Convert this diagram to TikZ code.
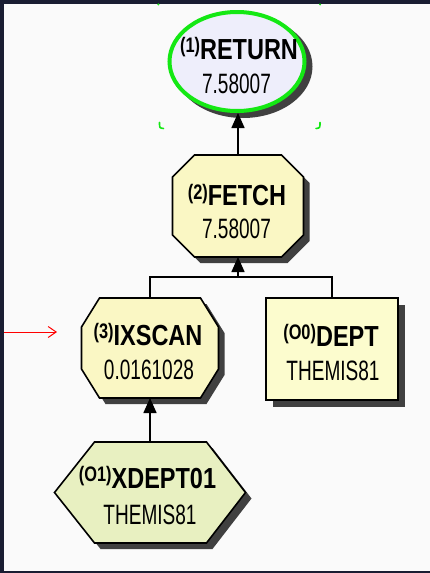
\documentclass[tikz,border=0pt]{standalone}
\usepackage{fontspec}
\setmainfont{Liberation Sans}
\newfontfamily\ttl[FakeStretch=0.81]{Liberation Sans}
\newfontfamily\pfx[FakeStretch=0.78]{Liberation Sans}
\newfontfamily\vlf[FakeStretch=0.68]{Liberation Sans}
\usetikzlibrary{arrows.meta}
\definecolor{framec}{RGB}{25,29,50}
\definecolor{bgc}{RGB}{250,250,250}
\definecolor{lav}{RGB}{238,238,251}
\definecolor{selg}{RGB}{20,232,20}
\definecolor{ylw}{RGB}{250,247,196}
\definecolor{ylwb}{RGB}{252,252,206}
\definecolor{grn}{RGB}{232,240,193}
\definecolor{shd}{RGB}{64,64,64}
\newcommand\ttlline[2]{{\raisebox{6.5pt}{\pfx\bfseries\fontsize{21}{21}\selectfont(#1)}\ttl\bfseries\fontsize{29}{29}\selectfont#2}}
\newcommand\valline[1]{{\vlf\fontsize{28}{28}\selectfont #1}}
\begin{document}
\begin{tikzpicture}[x=1pt,y=-1pt,
  anch/.style={rectangle,draw=none,inner sep=0pt,outer sep=0pt},
  shp/.style={draw=black,line width=1.6pt,line join=miter},
  shade/.style={fill=shd},
  conn/.style={draw=black,line width=1.5pt},
  arr/.style={conn,-{Triangle[length=15pt,width=13pt]}},
  ttxt/.style={anchor=base,inner sep=0pt,outer sep=0pt},
]
\fill[framec] (0,0) rectangle (430,573);
\fill[bgc] (4,3.5) rectangle (430,571);
\useasboundingbox (0,0) rectangle (430,573);

% anchor nodes (bounding boxes of the shapes)
\node[anch, minimum width=139pt, minimum height=103pt] (ret) at (237,61.5) {};
\node[anch, minimum width=131pt, minimum height=102pt] (fetch) at (238,206) {};
\node[anch, minimum width=137pt, minimum height=100pt] (ixscan) at (150,348) {};
\node[anch, minimum width=132pt, minimum height=102pt] (dept) at (332,349) {};
\node[anch, minimum width=191pt, minimum height=101pt] (xdept) at (150,492.5) {};

% RETURN ellipse
\fill[shade] ([shift={(6,5)}]ret.center) ellipse [x radius=69.5, y radius=51.5];
\draw[selg, line width=4pt, fill=lav] (ret.center) ellipse [x radius=67.5, y radius=49.5];

% FETCH octagon
\begin{scope}[shift={(fetch.center)}]
  \fill[shade, shift={(6,6)}] (-43.5,-51) -- (43.5,-51) -- (65.5,-29) -- (65.5,29) -- (43.5,51) -- (-43.5,51) -- (-65.5,29) -- (-65.5,-29) -- cycle;
  \path[shp, fill=ylw] (-43.5,-51) -- (43.5,-51) -- (65.5,-29) -- (65.5,29) -- (43.5,51) -- (-43.5,51) -- (-65.5,29) -- (-65.5,-29) -- cycle;
\end{scope}

% IXSCAN octagon
\begin{scope}[shift={(ixscan.center)}]
  \fill[shade, shift={(6,6)}] (-50.5,-50) -- (50.5,-50) -- (68.5,-21) -- (68.5,21) -- (50.5,50) -- (-50.5,50) -- (-68.5,21) -- (-68.5,-21) -- cycle;
  \path[shp, fill=ylw] (-50.5,-50) -- (50.5,-50) -- (68.5,-21) -- (68.5,21) -- (50.5,50) -- (-50.5,50) -- (-68.5,21) -- (-68.5,-21) -- cycle;
\end{scope}

% DEPT rectangle
\fill[shade] ([shift={(7,7)}]dept.north west) rectangle ([shift={(7,7)}]dept.south east);
\path[shp, line width=2pt, fill=ylwb] (dept.north west) rectangle (dept.south east);

% XDEPT01 hexagon
\begin{scope}[shift={(xdept.center)}]
  \fill[shade, shift={(6,6)}] (-95.5,0) -- (-55.5,-50.5) -- (56.5,-50.5) -- (95.5,0) -- (56.5,50.5) -- (-55.5,50.5) -- cycle;
  \path[shp, fill=grn] (-95.5,0) -- (-55.5,-50.5) -- (56.5,-50.5) -- (95.5,0) -- (56.5,50.5) -- (-55.5,50.5) -- cycle;
\end{scope}

% texts
\node[ttxt] (ret-t) at (239,59.3) {\ttlline{1}{RETURN}};
\node[ttxt] (ret-v) at (236.5,93) {\valline{7.58007}};
\node[ttxt] (fetch-t) at (237,205.5) {\ttlline{2}{FETCH}};
\node[ttxt] (fetch-v) at (236.5,238) {\valline{7.58007}};
\node[ttxt] (ixscan-t) at (148,345) {\ttlline{3}{IXSCAN}};
\node[ttxt] (ixscan-v) at (149,379) {\valline{0.0161028}};
\node[ttxt] (dept-t) at (331,346) {\ttlline{O0}{DEPT}};
\node[ttxt] (dept-v) at (333,380) {\valline{THEMIS81}};
\node[ttxt] (xdept-t) at (147.5,488) {\ttlline{O1}{XDEPT01}};
\node[ttxt] (xdept-v) at (150,524) {\valline{THEMIS81}};

% connectors
\coordinate (jn) at (238,277);
\draw[conn] (ixscan.north) |- (jn) -| (dept.north);
\draw[arr] (jn) -- (fetch.south);
\draw[arr] (fetch.north) -- (fetch.north |- ret.south);
\draw[arr] (xdept.north) -- (ixscan.south);

% red pointer
\coordinate (rs) at (4,332);
\coordinate (re) at (57,332);
\draw[red, line width=1pt, -{Straight Barb[length=8pt,width=11pt]}] (rs) -- (re);

% selection marks
\draw[selg, line width=1.6pt, line cap=round] (159.5,122.5) .. controls (159.5,128) .. (163.5,128.5);
\draw[selg, line width=1.6pt, line cap=round] (320,122.5) .. controls (320,128) .. (316,128.5);
\fill[selg] (158.3,4.4) circle (1.1);
\fill[selg] (320,4.4) circle (1.1);
\end{tikzpicture}
\end{document}
